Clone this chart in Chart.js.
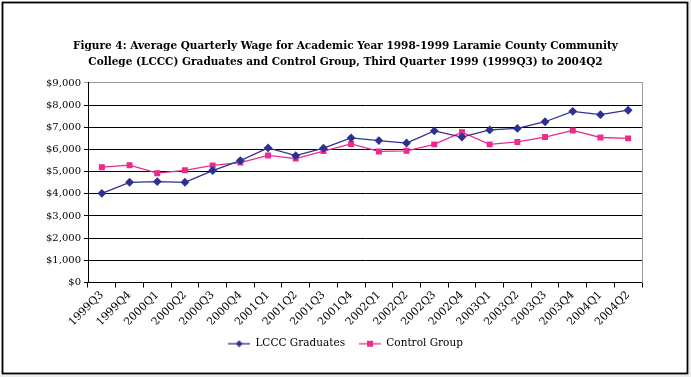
<!DOCTYPE html>
<html>
<head>
<meta charset="utf-8">
<script src="https://cdn.jsdelivr.net/npm/chart.js@4/dist/chart.umd.min.js"></script>
<style>
  html, body { margin: 0; padding: 0; background: #fff; }
  #wrap { width: 691px; height: 377px; position: relative; }
</style>
</head>
<body>
<div id="wrap"><canvas id="c" width="691" height="377"></canvas></div>
<script>
// quarters on the x axis
const quarters = ['1999Q3','1999Q4','2000Q1','2000Q2','2000Q3','2000Q4','2001Q1','2001Q2','2001Q3','2001Q4',
  '2002Q1','2002Q2','2002Q3','2002Q4','2003Q1','2003Q2','2003Q3','2003Q4','2004Q1','2004Q2'];
// average quarterly wage ($)
const lcccWage    = [4020,4520,4550,4520,5050,5500,6070,5720,6060,6520,6400,6290,6840,6560,6880,6950,7250,7720,7570,7770];
const controlWage = [5200,5290,4930,5060,5280,5410,5730,5590,5930,6250,5910,5940,6230,6780,6230,6340,6560,6860,6540,6500];
const seriesNames = ['LCCC Graduates', 'Control Group'];
const titleLines = [
  'Figure 4: Average Quarterly Wage for Academic Year 1998-1999 Laramie County Community',
  'College (LCCC) Graduates and Control Group, Third Quarter 1999 (1999Q3) to 2004Q2'
];

const NAVY = '#2e3192', PINK = '#ea2c8c';
const SERIF = '"DejaVu Serif", serif';

// little line+marker swatch for the legend
function swatch(color, style) {
  const cv = document.createElement('canvas');
  cv.width = 22; cv.height = 8;
  const g = cv.getContext('2d');
  g.strokeStyle = color; g.lineWidth = 1.3;
  g.beginPath(); g.moveTo(0, 4); g.lineTo(22, 4); g.stroke();
  g.fillStyle = color;
  if (style === 'rect') g.fillRect(8, 1, 6, 6);
  else { g.beginPath(); g.moveTo(11, 0.5); g.lineTo(14.5, 4); g.lineTo(11, 7.5); g.lineTo(7.5, 4); g.closePath(); g.fill(); }
  return cv;
}

const framePlugin = {
  id: 'frame',
  beforeDraw(chart) {
    const ctx = chart.ctx;
    ctx.save();
    ctx.fillStyle = '#ececec';
    ctx.fillRect(0, 0, 691, 377);
    ctx.fillStyle = '#fff';
    ctx.fillRect(0, 0, 689, 375);
    ctx.strokeStyle = '#000'; ctx.lineWidth = 1.8;
    ctx.strokeRect(2.5, 2.5, 685, 371);
    ctx.restore();
  }
};

new Chart(document.getElementById('c'), {
  type: 'line',
  data: {
    labels: quarters,
    datasets: [
      { label: seriesNames[0], data: lcccWage, borderColor: NAVY, backgroundColor: NAVY, borderWidth: 1.3,
        pointStyle: 'rectRot', pointRadius: 3.5, pointHoverRadius: 3.5, tension: 0 },
      { label: seriesNames[1], data: controlWage, borderColor: PINK, backgroundColor: PINK, borderWidth: 1.3,
        pointStyle: 'rect', pointRadius: 3.3, pointHoverRadius: 3.3, tension: 0 }
    ]
  },
  options: {
    responsive: false, animation: false,
    layout: { padding: { left: 28, right: 28, top: 39, bottom: 18 } },
    plugins: {
      title: { display: true, text: titleLines, color: '#000', padding: { top: 0, bottom: 13.5 },
        font: { family: SERIF, size: 10.5, weight: 'bold', lineHeight: 1.45 } },
      legend: {
        position: 'bottom',
        labels: {
          color: '#000', font: { family: SERIF, size: 10.5 }, usePointStyle: true, pointStyleWidth: 22, padding: 14,
          generateLabels(chart) {
            return chart.data.datasets.map((ds, i) => ({
              text: ds.label, datasetIndex: i, fontColor: '#000',
              pointStyle: swatch(ds.borderColor, ds.pointStyle === 'rect' ? 'rect' : 'diamond'),
              hidden: false
            }));
          }
        }
      },
      tooltip: { enabled: false }
    },
    scales: {
      x: {
        offset: true,
        grid: { display: true, drawOnChartArea: false, drawTicks: true, tickLength: 5, color: '#000', offset: true },
        border: { display: true, color: '#000', width: 1 },
        ticks: { color: '#000', font: { family: SERIF, size: 11 }, maxRotation: 45, minRotation: 45, autoSkip: false, padding: 1 },
        afterFit(s) { s.height = 42; }
      },
      y: {
        min: 0, max: 9000,
        grid: { color: ctx => ctx.tick && ctx.tick.value === 9000 ? '#9a9a9a' : '#000', lineWidth: 1, drawTicks: true, tickLength: 4 },
        border: { display: true, color: '#000', width: 1 },
        ticks: { stepSize: 1000, color: '#000', font: { family: SERIF, size: 10 }, padding: 3,
          callback: v => '$' + v.toLocaleString('en-US') },
        afterFit(s) { s.width = 60; }
      },
      y2: {
        position: 'right', min: 0, max: 9000,
        grid: { display: false, drawOnChartArea: false },
        border: { display: true, color: '#9a9a9a', width: 1 },
        ticks: { display: false },
        afterFit(s) { s.width = 21; }
      }
    }
  },
  plugins: [framePlugin]
});
</script>
</body>
</html>
